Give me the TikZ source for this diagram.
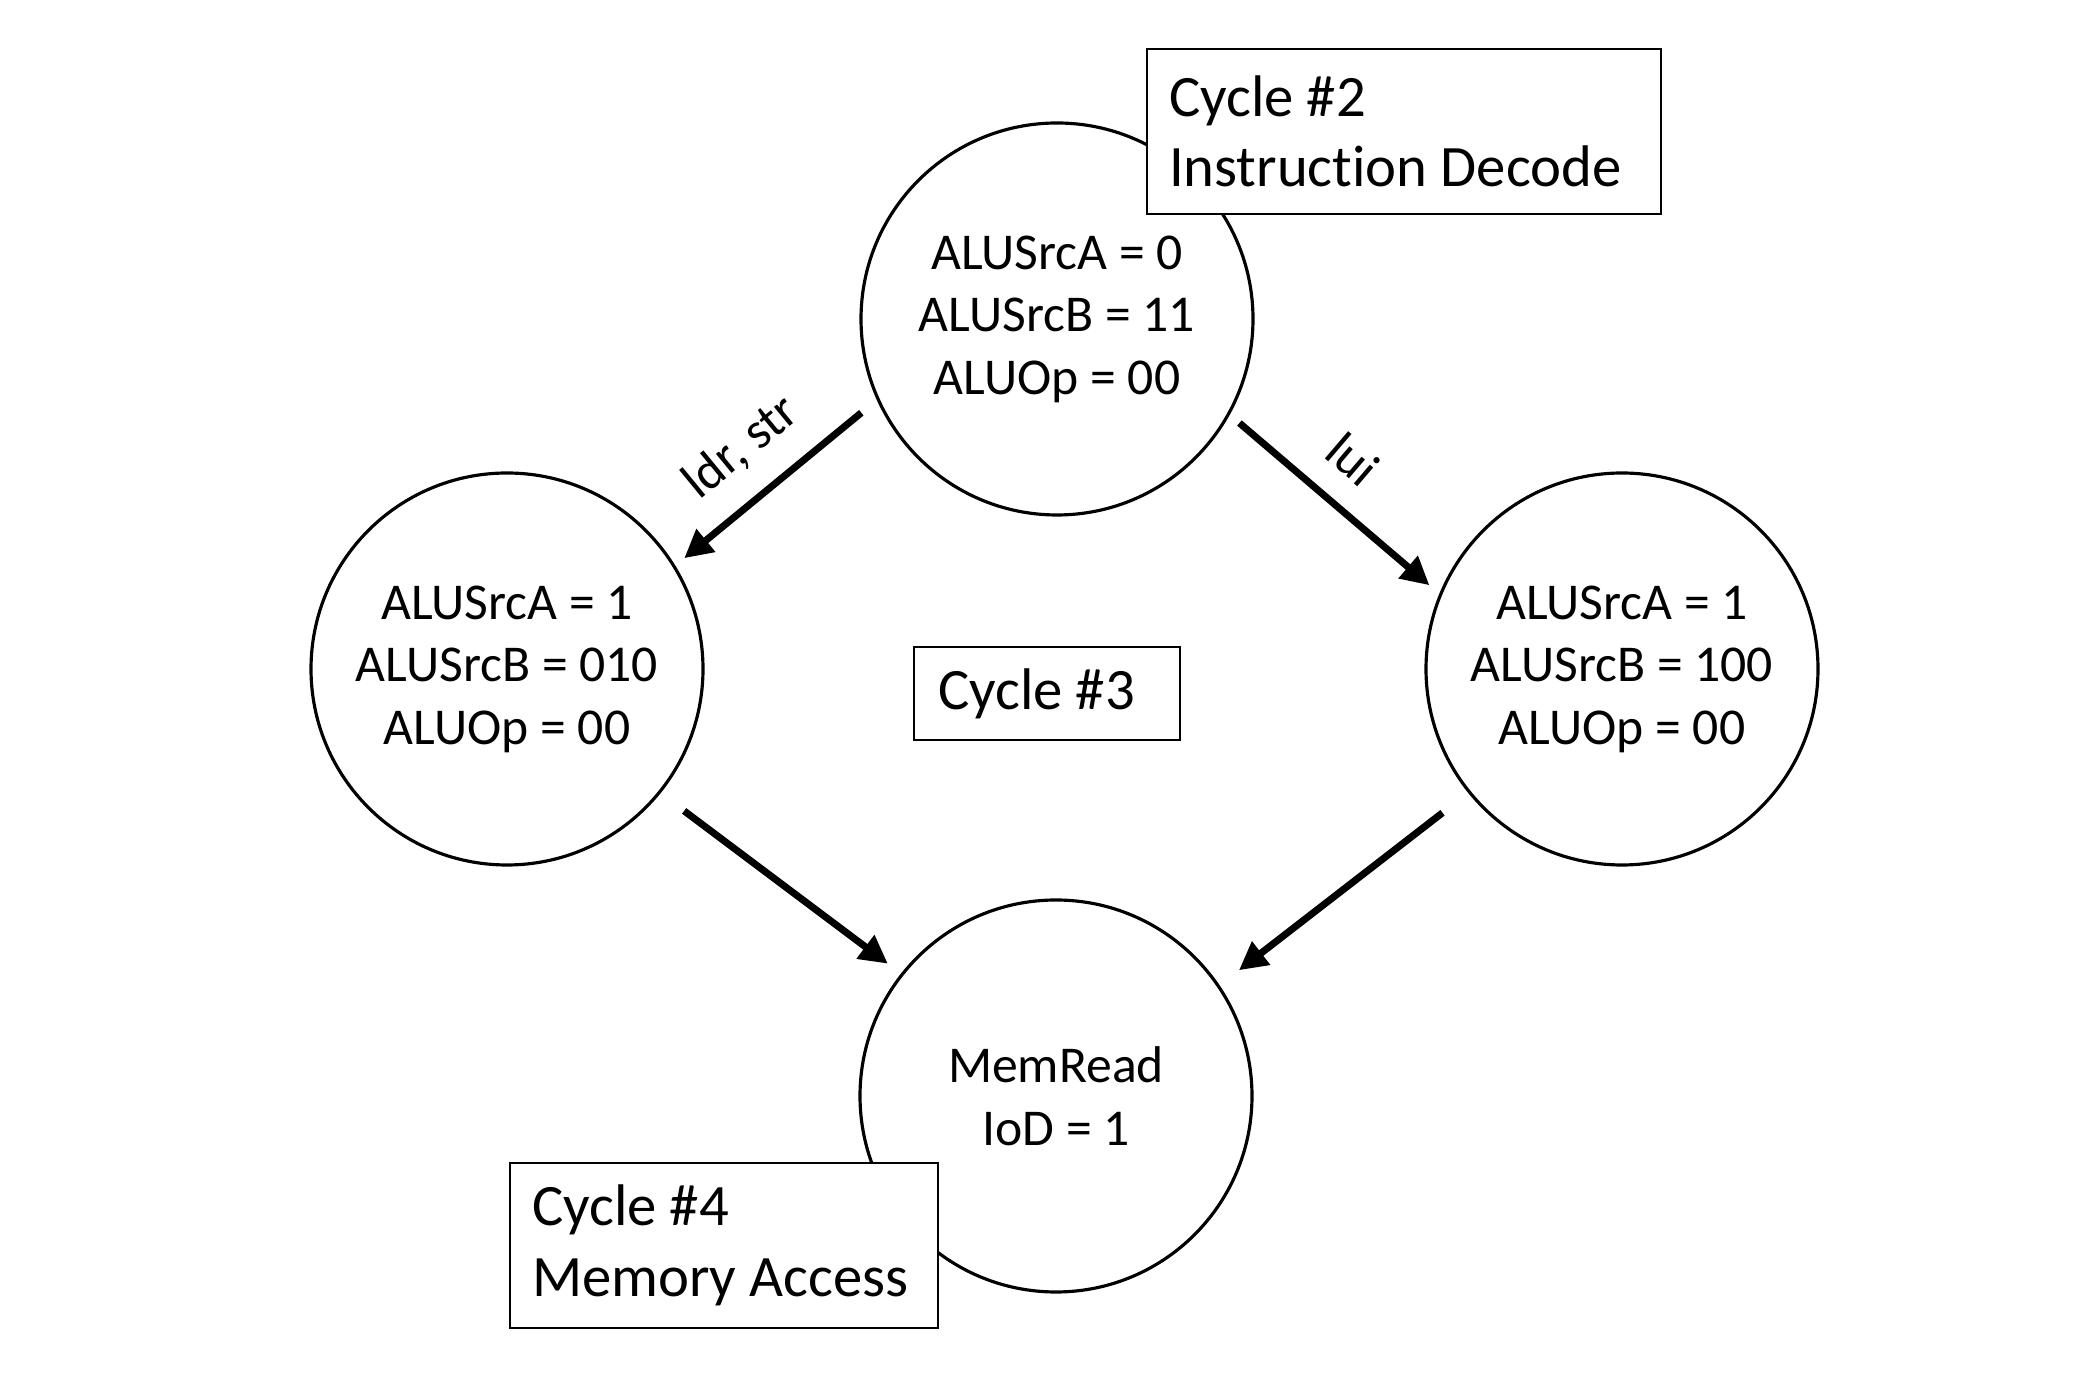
\documentclass[tikz,border=0pt]{standalone}
\usepackage{fontspec}
\setmainfont[Ligatures=NoCommon]{Carlito}
\usetikzlibrary{arrows.meta,calc}
\tikzstyle{stage} = [circle, draw=black, line width=0.9pt, minimum size=3.92cm, align=center, font=\fontsize{14.7}{17.8}\selectfont]
\tikzstyle{cyclebox} = [rectangle, draw=black, line width=0.7pt, fill=white, align=left, inner sep=0pt, font=\fontsize{16.7}{20}\selectfont, execute at begin node={\spaceskip=0pt\relax}]
\tikzstyle{flow} = [-{Triangle[length=8pt,width=8pt]}, line width=2pt]

\begin{document}
\begin{tikzpicture}
	\useasboundingbox (0,0) rectangle (20.84,13.80);
	\tikzset{cond/.style={sloped, above=7pt, inner sep=0pt, font=\fontsize{14.7}{17.8}\selectfont}}
	% states
	\node[stage] (decode) at (10.57,10.61) {ALUSrcA = 0\\ALUSrcB = 11\\ALUOp = 00};
	\node[stage] (ldrstr) at (5.07,7.11) {ALUSrcA = 1\\ALUSrcB = 010\\ALUOp = 00};
	\node[stage] (lui) at (16.22,7.11) {ALUSrcA = 1\\ALUSrcB = 100\\ALUOp = 00};
	\node[stage] (memread) at (10.56,2.84) {MemRead\\IoD = 1};
	% cycle labels
	\node[cyclebox, minimum width=5.14cm, minimum height=1.65cm, text width=4.70cm] (cyc2) at (14.04,12.485) {Cycle \#2\\Instruction Decode};
	\node[cyclebox, minimum width=2.66cm, minimum height=0.93cm, text width=2.18cm] (cyc3) at (10.47,6.865) {Cycle \#3};
	\node[cyclebox, minimum width=4.28cm, minimum height=1.65cm, text width=3.84cm] (cyc4) at (7.24,1.345) {Cycle \#4\\Memory Access};
	% transitions
	\draw[flow] ($(decode)+(205.6:2.17)$) -- node[midway, cond] {ldr, str} ($(ldrstr)+(32:2.09)$);
	\draw[flow] ($(decode)+(-29.7:2.10)$) -- node[pos=0.44, cond] {lui} ($(lui)+(156.5:2.10)$);
	\draw[flow] ($(ldrstr)+(-38.7:2.27)$) -- ($(memread)+(141.8:2.14)$);
	\draw[flow] ($(lui)+(218.7:2.30)$) -- ($(memread)+(34.5:2.22)$);
\end{tikzpicture}
\end{document}
